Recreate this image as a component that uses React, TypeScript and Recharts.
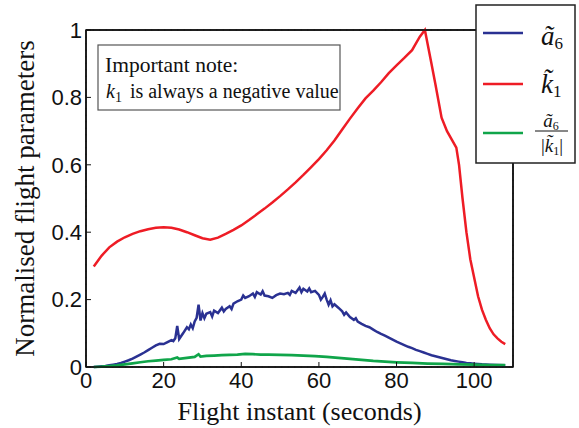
import React from "react";
import {
  CartesianGrid,
  Line,
  LineChart,
  ReferenceArea,
  XAxis,
  YAxis,
} from "recharts";

if (typeof document !== "undefined") document.body.style.margin = "0";

// flight instants (s) and normalised values
const a6Times = [
  2, 3, 4, 5, 6, 7, 8, 9, 10, 11, 12, 13, 14, 15, 16, 17, 18, 19, 20, 21, 22,
  22.5, 23, 23.5, 24, 25, 26, 26.5, 27, 27.5, 28, 28.5, 29, 29.5, 30, 30.5, 31,
  32, 32.5, 33, 34, 35, 35.5, 36, 37, 37.5, 38, 39, 40, 40.5, 41, 42, 43, 43.5,
  44, 45, 45.5, 46, 47, 48, 49, 50, 51, 52, 52.5, 53, 54, 55, 55.5, 56, 57,
  57.5, 58, 59, 60, 60.5, 61, 61.5, 62, 62.5, 63, 63.5, 64, 65, 66, 66.5, 67,
  68, 69, 69.5, 70, 71, 72, 73, 74, 75, 76, 77, 78, 79, 80, 81, 82, 83, 84, 85,
  86, 87, 88, 89, 90, 91, 92, 93, 94, 95, 96, 97, 98, 99, 100, 102, 104, 106,
  108,
];
const a6Values = [
  0, 0.001, 0.002, 0.003, 0.005, 0.007, 0.009, 0.012, 0.016, 0.02, 0.025,
  0.031, 0.037, 0.043, 0.05, 0.057, 0.064, 0.069, 0.068, 0.074, 0.08, 0.077,
  0.085, 0.122, 0.083, 0.1, 0.118, 0.112, 0.126, 0.115, 0.135, 0.146, 0.185,
  0.138, 0.16, 0.145, 0.158, 0.163, 0.15, 0.167, 0.16, 0.176, 0.165, 0.172,
  0.18, 0.172, 0.188, 0.195, 0.2, 0.212, 0.205, 0.21, 0.218, 0.208, 0.222,
  0.215, 0.225, 0.212, 0.21, 0.205, 0.213, 0.218, 0.216, 0.22, 0.214, 0.226,
  0.22, 0.236, 0.222, 0.232, 0.224, 0.233, 0.222, 0.226, 0.214, 0.2, 0.208,
  0.218, 0.2, 0.185, 0.198, 0.18, 0.186, 0.176, 0.165, 0.155, 0.162, 0.148,
  0.14, 0.145, 0.135, 0.128, 0.122, 0.118, 0.111, 0.104, 0.098, 0.093, 0.087,
  0.081, 0.075, 0.07, 0.065, 0.06, 0.056, 0.051, 0.047, 0.043, 0.039, 0.035,
  0.032, 0.029, 0.026, 0.023, 0.02, 0.018, 0.016, 0.014, 0.012, 0.011, 0.01,
  0.008, 0.007, 0.006, 0.005,
];

const k1Times = [
  2, 4, 6, 8, 10, 12, 14, 16, 18, 20, 22, 24, 26, 28, 30, 32, 34, 36, 38, 40,
  42, 44, 46, 48, 50, 52, 54, 56, 58, 60, 62, 64, 66, 68, 70, 72, 74, 76, 78,
  80, 82, 84, 85, 86, 87.3, 89, 90, 91.6, 93, 95.4, 96.1, 97, 98, 99, 100, 101,
  102, 103, 104, 105, 106, 107, 108,
];
const k1Values = [
  0.298, 0.33, 0.355, 0.372, 0.385, 0.395, 0.403, 0.409, 0.413, 0.415, 0.413,
  0.408, 0.4, 0.391, 0.382, 0.378, 0.384, 0.395, 0.407, 0.42, 0.436, 0.453,
  0.47, 0.488, 0.507, 0.527, 0.548, 0.57, 0.593, 0.617, 0.643, 0.672, 0.705,
  0.737, 0.768, 0.797, 0.82, 0.845, 0.872, 0.895, 0.917, 0.94, 0.96, 0.98, 1.0,
  0.9, 0.84, 0.74, 0.7, 0.651, 0.6, 0.5, 0.4, 0.32, 0.265, 0.21, 0.17, 0.14,
  0.115, 0.097, 0.085, 0.075, 0.068,
];

const ratioTimes = [
  2, 4, 6, 8, 10, 12, 14, 16, 18, 20, 22, 23.5, 24, 26, 28, 29, 29.5, 31, 33,
  35, 37, 39, 41, 43, 45, 47, 50, 53, 56, 59, 62, 65, 68, 71, 74, 77, 80, 84,
  88, 92, 96, 100, 104, 108,
];
const ratioValues = [
  0, 0.001, 0.003, 0.005, 0.008, 0.011, 0.014, 0.017, 0.019, 0.021, 0.023,
  0.028, 0.024, 0.027, 0.03, 0.038, 0.031, 0.033, 0.034, 0.035, 0.036, 0.037,
  0.039, 0.038, 0.037, 0.037, 0.036, 0.035, 0.034, 0.032, 0.03, 0.027, 0.024,
  0.021, 0.018, 0.016, 0.014, 0.012, 0.01, 0.009, 0.008, 0.007, 0.006, 0.006,
];

const xTicks = [0, 20, 40, 60, 80, 100];
const yTicks = [0, 0.2, 0.4, 0.6, 0.8, 1];

const zip = (ts: number[], vs: number[]) => ts.map((t, i) => ({ t, v: vs[i] }));
const a6Data = zip(a6Times, a6Values);
const k1Data = zip(k1Times, k1Values);
const ratioData = zip(ratioTimes, ratioValues);

const BLUE = "#2a3192";
const RED = "#ee1c25";
const GREEN = "#10a54a";
const serif = "'Liberation Serif', 'Times New Roman', serif";
const sans = "'Liberation Sans', Arial, sans-serif";

const fmtY = (v: number) => (v === 0 ? "0" : v === 1 ? "1" : v.toFixed(1));

function Overlay() {
  return (
    <svg
      width={579}
      height={428}
      style={{ position: "absolute", left: 0, top: 0, pointerEvents: "none" }}
    >
      {/* note box */}
      <rect x={98} y={45} width={242} height={65} fill="#fff" stroke="#555" strokeWidth={1.2} />
      <text x={105} y={72} fontFamily={serif} fontSize={21.5} fill="#111">
        Important note:
      </text>
      <text x={106} y={98} fontFamily={serif} fontSize={20} fill="#111">
        <tspan fontStyle="italic">k</tspan>
        <tspan fontSize={14} dy={4}>1</tspan>
        <tspan dy={-4} dx={8}>is always a negative value</tspan>
      </text>

      {/* legend */}
      <rect x={476} y={5} width={99} height={158} fill="#fff" stroke="#222" strokeWidth={1.5} />
      <line x1={483} x2={523} y1={33} y2={33} stroke={BLUE} strokeWidth={2.5} />
      <line x1={483} x2={523} y1={84} y2={84} stroke={RED} strokeWidth={2.5} />
      <line x1={483} x2={523} y1={133} y2={133} stroke={GREEN} strokeWidth={2.5} />
      <text x={541} y={45} fontFamily={serif} fontSize={27} fill="#111">
        <tspan fontStyle="italic">ã</tspan>
        <tspan fontSize={17} dy={4}>6</tspan>
      </text>
      <text x={541} y={93} fontFamily={serif} fontSize={27} fill="#111">
        <tspan fontStyle="italic">{"k\u0303"}</tspan>
        <tspan fontSize={17} dy={4}>1</tspan>
      </text>
      <text x={551} y={127} textAnchor="middle" fontFamily={serif} fontSize={19} fill="#111">
        <tspan fontStyle="italic">ã</tspan>
        <tspan fontSize={12} dy={3}>6</tspan>
      </text>
      <line x1={535} x2={568} y1={131} y2={131} stroke="#111" strokeWidth={1} />
      <text x={552} y={152} textAnchor="middle" fontFamily={serif} fontSize={19} fill="#111">
        |<tspan fontStyle="italic">{"k\u0303"}</tspan>
        <tspan fontSize={12} dy={3}>1</tspan>
        <tspan dy={-3}>|</tspan>
      </text>
    </svg>
  );
}

export default function App() {
  return (
    <div style={{ position: "relative", width: 579, height: 428, background: "#fff" }}>
      <LineChart
        width={579}
        height={428}
        margin={{ top: 30, right: 66, bottom: 0, left: 0 }}
      >
        <CartesianGrid stroke="#777" strokeDasharray="1.5 5" />
        <XAxis
          xAxisId="b"
          type="number"
          dataKey="t"
          domain={[0, 110]}
          ticks={xTicks}
          allowDataOverflow
          height={61}
          tickSize={-5}
          tickMargin={10}
          tick={{ fill: "#111", fontSize: 22, fontFamily: sans }}
          axisLine={{ stroke: "#111", strokeWidth: 1.5 }}
          tickLine={{ stroke: "#111" }}
          label={{
            value: "Flight instant (seconds)",
            position: "insideBottom",
            offset: 8,
            fill: "#111",
            fontSize: 26,
            fontFamily: serif,
          }}
        />
        <XAxis
          xAxisId="top"
          orientation="top"
          type="number"
          domain={[0, 110]}
          ticks={xTicks}
          height={1}
          mirror
          tick={false}
          tickSize={5}
          axisLine={{ stroke: "#111", strokeWidth: 1.5 }}
          tickLine={{ stroke: "#111" }}
        />
        <YAxis
          yAxisId="l"
          type="number"
          domain={[0, 1]}
          ticks={yTicks}
          tickFormatter={fmtY}
          width={86}
          tickSize={-5}
          tickMargin={9}
          tick={{ fill: "#111", fontSize: 22, fontFamily: sans }}
          axisLine={{ stroke: "#111", strokeWidth: 1.5 }}
          tickLine={{ stroke: "#111" }}
          label={{
            value: "Normalised flight parameters",
            angle: -90,
            position: "insideLeft",
            offset: 24,
            style: { textAnchor: "middle" },
            fill: "#111",
            fontSize: 27,
            fontFamily: serif,
          }}
        />
        <YAxis
          yAxisId="r"
          orientation="right"
          type="number"
          domain={[0, 1]}
          ticks={yTicks}
          width={1}
          mirror
          tick={false}
          tickSize={5}
          axisLine={{ stroke: "#111", strokeWidth: 1.5 }}
          tickLine={{ stroke: "#111" }}
        />
        <ReferenceArea
          xAxisId="b"
          yAxisId="l"
          x1={0}
          x2={110}
          y1={0}
          y2={1}
          fill="none"
          stroke="#111"
          strokeWidth={1.5}
          ifOverflow="visible"
        />
        <Line
          xAxisId="b"
          yAxisId="l"
          data={a6Data}
          dataKey="v"
          type="linear"
          stroke={BLUE}
          strokeWidth={2.5}
          dot={false}
          isAnimationActive={false}
        />
        <Line
          xAxisId="b"
          yAxisId="l"
          data={k1Data}
          dataKey="v"
          type="linear"
          stroke={RED}
          strokeWidth={2.5}
          dot={false}
          isAnimationActive={false}
        />
        <Line
          xAxisId="b"
          yAxisId="l"
          data={ratioData}
          dataKey="v"
          type="linear"
          stroke={GREEN}
          strokeWidth={2.7}
          dot={false}
          isAnimationActive={false}
        />
      </LineChart>
      <Overlay />
    </div>
  );
}
